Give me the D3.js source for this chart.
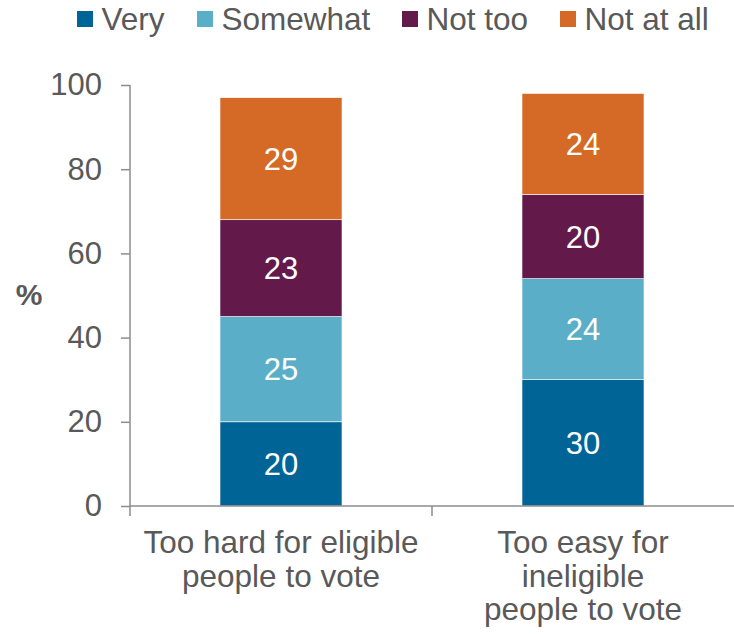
<!DOCTYPE html>
<html>
<head>
<meta charset="utf-8">
<script src="https://cdn.jsdelivr.net/npm/d3@7"></script>
<style>
  html, body { margin: 0; padding: 0; background: #fff; }
  svg { display: block; font-family: "Liberation Sans", Arial, sans-serif; }
</style>
</head>
<body>
<svg id="chart" width="734" height="636"></svg>
<script>
// ---- Data ----
const categories = ["Too hard for eligible people to vote", "Too easy for ineligible people to vote"];
const categoryLines = [["Too hard for eligible", "people to vote"], ["Too easy for", "ineligible", "people to vote"]];
const seriesNames = ["Very", "Somewhat", "Not too", "Not at all"];
const very = [20, 30];
const somewhat = [25, 24];
const notToo = [23, 20];
const notAtAll = [29, 24];
const yTicks = [0, 20, 40, 60, 80, 100];

// ---- Styles ----
const colors = ["#006496", "#5BAEC7", "#64194B", "#D56A26"];
const textColor = "#595959";
const axisColor = "#8c8c8c";

const svg = d3.select("#chart");

const rows = categories.map((c, i) => ({
  cat: c,
  "Very": very[i],
  "Somewhat": somewhat[i],
  "Not too": notToo[i],
  "Not at all": notAtAll[i]
}));

const stack = d3.stack().keys(seriesNames)(rows);

const x = d3.scaleBand().domain(categories).range([130, 734]).paddingInner(0.596).paddingOuter(0.298);
const y = d3.scaleLinear().domain([0, 100]).range([506, 85]);
const color = d3.scaleOrdinal().domain(seriesNames).range(colors);

// Bars
const g = svg.append("g");
stack.forEach(layer => {
  g.selectAll(null).data(layer).enter().append("rect")
    .attr("x", d => x(d.data.cat))
    .attr("y", d => y(d[1]))
    .attr("width", x.bandwidth())
    .attr("height", d => y(d[0]) - y(d[1]))
    .attr("fill", color(layer.key))
    .attr("stroke", "#ffffff")
    .attr("stroke-width", 0.6);
  g.selectAll(null).data(layer).enter().append("text")
    .attr("x", d => x(d.data.cat) + x.bandwidth() / 2)
    .attr("y", d => (y(d[0]) + y(d[1])) / 2)
    .attr("dy", "0.36em")
    .attr("text-anchor", "middle")
    .attr("fill", "#ffffff")
    .attr("font-size", 31)
    .text(d => d[1] - d[0]);
});

// Y axis
const yAxis = d3.axisLeft(y).tickValues(yTicks).tickSize(9).tickSizeOuter(0).tickPadding(19);
const ya = svg.append("g").attr("transform", "translate(130,0)").call(yAxis);
ya.select(".domain").remove();
ya.selectAll(".tick line").attr("stroke", axisColor).attr("stroke-width", 1.5);
ya.selectAll(".tick text").attr("fill", textColor).attr("font-size", 31)
  .attr("font-family", "Liberation Sans, Arial, sans-serif");
svg.append("line").attr("x1", 130).attr("x2", 130).attr("y1", y(100)).attr("y2", y(0) + 10)
  .attr("stroke", axisColor).attr("stroke-width", 1.5);

// X axis
const step = x.step();
const xr = x.range();
svg.append("line").attr("x1", xr[0]).attr("x2", xr[1]).attr("y1", y(0)).attr("y2", y(0))
  .attr("stroke", axisColor).attr("stroke-width", 1.5);
const bounds = categories.slice(1).map(c => x(c) - step * x.paddingInner() / 2);
svg.selectAll(null).data(bounds).enter().append("line")
  .attr("x1", d => d).attr("x2", d => d)
  .attr("y1", y(0)).attr("y2", y(0) + 10)
  .attr("stroke", axisColor).attr("stroke-width", 1.5);

// Category labels
categories.forEach((c, i) => {
  const t = svg.append("text")
    .attr("text-anchor", "middle")
    .attr("fill", textColor)
    .attr("font-size", 31.5);
  categoryLines[i].forEach((line, j) => {
    t.append("tspan")
      .attr("x", x(c) + x.bandwidth() / 2)
      .attr("y", 553 + j * 33.5)
      .text(line);
  });
});

// Y label
svg.append("text").attr("x", 29).attr("y", 305)
  .attr("text-anchor", "middle").attr("fill", textColor)
  .attr("font-size", 30).attr("font-weight", "bold").text("%");

// Legend
const legendX = [77, 197, 402, 560];
const leg = svg.append("g");
seriesNames.forEach((s, i) => {
  leg.append("rect").attr("x", legendX[i]).attr("y", 11).attr("width", 16).attr("height", 16)
    .attr("fill", color(s));
  leg.append("text").attr("x", legendX[i] + 24.5).attr("y", 29.5)
    .attr("fill", textColor).attr("font-size", 31.5).text(s);
});
</script>
</body>
</html>
